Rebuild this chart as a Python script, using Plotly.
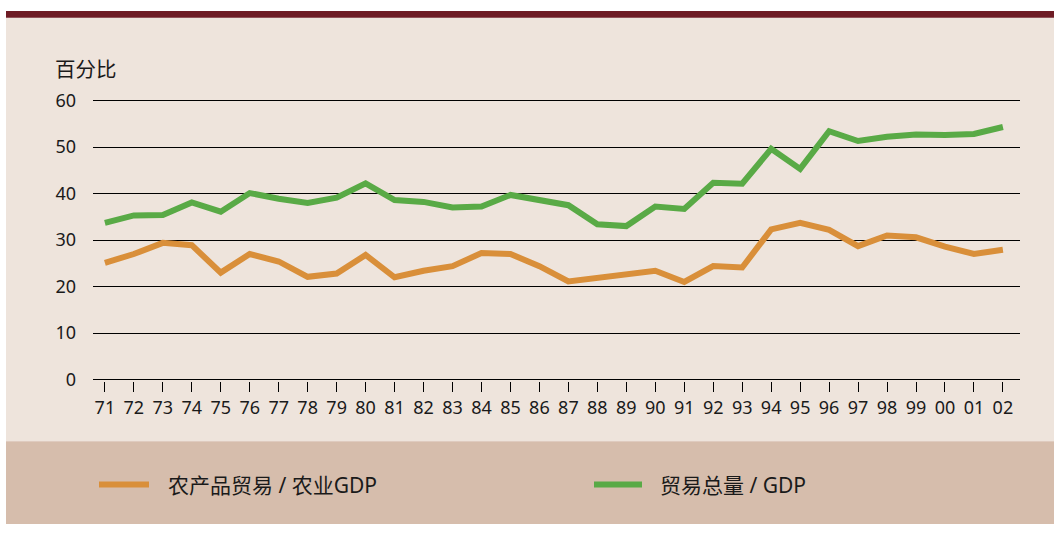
import plotly.graph_objects as go

years = ["71", "72", "73", "74", "75", "76", "77", "78", "79", "80", "81", "82",
         "83", "84", "85", "86", "87", "88", "89", "90", "91", "92", "93", "94",
         "95", "96", "97", "98", "99", "00", "01", "02"]

agri_trade = [25.1, 27.0, 29.4, 28.9, 23.0, 27.0, 25.4, 22.1, 22.8, 26.8, 22.0, 23.4,
              24.4, 27.2, 27.0, 24.4, 21.1, 21.9, 22.9, 23.4, 21.0, 24.4, 24.1, 32.3,
              33.7, 32.2, 28.7, 31.0, 30.6, 28.6, 27.0, 27.9]

total_trade = [33.7, 35.3, 35.4, 38.1, 36.1, 40.1, 38.9, 38.0, 39.1, 42.2, 38.6, 38.2,
               37.0, 37.2, 39.7, 38.6, 37.5, 33.4, 33.0, 37.2, 36.7, 42.3, 42.1, 49.6,
               45.3, 53.4, 51.3, 52.2, 52.7, 52.6, 52.8, 54.3]

series_names = ["农产品贸易 / 农业GDP", "贸易总量 / GDP"]
y_ticks = [0, 10, 20, 30, 40, 50, 60]
y_title = "百分比"

W, H = 1054, 533
ORANGE = "#d98f3a"
GREEN = "#59aa46"
PANEL = "#eee4dc"
BAND = "#d6bdac"
TOPBAR = "#6e1b24"
TXT = "#1a1a1a"
FONT = "Noto Sans, Noto Sans CJK SC, sans-serif"


def px(x):
    return x / W


def py(y):
    return 1 - y / H


# y axis: value 0 at pixel 383, value 60 at pixel 93; pad range so edge grid lines are drawn
Y0_PX, Y60_PX, PAD = 383.0, 93.0, 0.4
unit = (Y0_PX - Y60_PX) / 60.0
y_dom = [py(Y0_PX + PAD * unit), py(Y60_PX - PAD * unit)]

fig = go.Figure()
fig.add_trace(go.Scatter(x=years, y=agri_trade, mode="lines", name=series_names[0],
                         line=dict(color=ORANGE, width=6), showlegend=False))
fig.add_trace(go.Scatter(x=years, y=total_trade, mode="lines", name=series_names[1],
                         line=dict(color=GREEN, width=6), showlegend=False))

shapes = [
    dict(type="rect", xref="paper", yref="paper", x0=px(6), x1=1, y0=py(447), y1=py(7),
         fillcolor=PANEL, line_width=0, layer="below"),
    dict(type="rect", xref="paper", yref="paper", x0=px(6), x1=1, y0=py(7), y1=1,
         fillcolor=TOPBAR, line_width=0, layer="below"),
    dict(type="rect", xref="paper", yref="paper", x0=px(6), x1=1, y0=0, y1=py(447),
         fillcolor=BAND, line_width=0, layer="below"),
    # legend samples
    dict(type="line", xref="paper", yref="paper", x0=px(99), x1=px(149), y0=py(492), y1=py(492),
         line=dict(color=ORANGE, width=6)),
    dict(type="line", xref="paper", yref="paper", x0=px(594), x1=px(642), y0=py(492), y1=py(492),
         line=dict(color=GREEN, width=6)),
]

annotations = [
    dict(text=y_title, xref="paper", yref="paper", x=px(53), y=py(60), xanchor="left",
         yanchor="middle", showarrow=False, font=dict(size=20.5, color=TXT, family=FONT)),
    dict(text=series_names[0], xref="paper", yref="paper", x=px(166), y=py(492), xanchor="left",
         yanchor="middle", showarrow=False, font=dict(size=21, color=TXT, family=FONT)),
    dict(text=series_names[1], xref="paper", yref="paper", x=px(658), y=py(492), xanchor="left",
         yanchor="middle", showarrow=False, font=dict(size=21, color=TXT, family=FONT)),
]

fig.update_layout(
    autosize=True,
    margin=dict(l=0, r=0, t=0, b=0, pad=0),
    paper_bgcolor="white",
    plot_bgcolor="rgba(0,0,0,0)",
    font=dict(family=FONT, color=TXT, size=18),
    shapes=shapes,
    annotations=annotations,
    xaxis=dict(
        domain=[px(93), px(1020)],
        type="category",
        range=[-0.41, 31.59],
        showgrid=False, zeroline=False, showline=False,
        ticks="outside", ticklen=10, tickwidth=1, tickcolor="black",
        tickfont=dict(size=18, color=TXT, family=FONT),
        anchor="y",
    ),
    yaxis=dict(
        domain=y_dom,
        range=[-PAD, 60 + PAD],
        tickvals=y_ticks,
        showgrid=True, gridcolor="black", gridwidth=1,
        zeroline=False, showline=False, ticks="",
        ticklabelstandoff=16,
        tickfont=dict(size=18, color=TXT, family=FONT),
    ),
)

fig.write_html(
    "out.html",
    config={"responsive": True, "displayModeBar": False},
    default_width="100vw",
    default_height="100vh",
    post_script=(
        "document.documentElement.style.margin='0';"
        "document.body.style.margin='0';document.body.style.padding='0';"
        "document.body.style.overflow='hidden';"
        "Plotly.Plots.resize(document.getElementById('{plot_id}'));"
    ),
)
